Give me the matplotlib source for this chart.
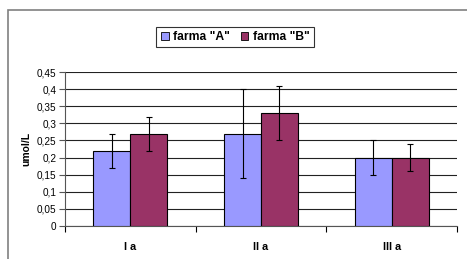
import matplotlib
matplotlib.use("Agg")
import matplotlib.pyplot as plt
import numpy as np
from matplotlib.patches import Rectangle

categories = ["I a", "II a", "III a"]
series_names = ['farma "A"', 'farma "B"']
values_a = [0.22, 0.27, 0.20]
values_b = [0.27, 0.33, 0.20]
err_a = [0.05, 0.13, 0.05]
err_b = [0.05, 0.08, 0.04]
ytick_vals = [0, 0.05, 0.1, 0.15, 0.2, 0.25, 0.3, 0.35, 0.4, 0.45]
ytick_labels = ["0", "0,05", "0,1", "0,15", "0,2", "0,25", "0,3", "0,35", "0,4", "0,45"]

plt.rcParams['font.family'] = ['Liberation Sans', 'DejaVu Sans']

W, H = 467, 259
fig = plt.figure(figsize=(W / 100, H / 100), dpi=100)
fig.patch.set_facecolor("white")

# outer chart frame
fig.patches.append(Rectangle((8 / W, -0.1), 1.2, (H - 10) / H + 0.1, transform=fig.transFigure,
                             fill=False, edgecolor="#808080", linewidth=1.2))

ax_l, ax_r, ax_t, ax_b = 65, 457, 72.3, 225.7
ax = fig.add_axes([ax_l / W, 1 - ax_b / H, (ax_r - ax_l) / W, (ax_b - ax_t) / H])

x = np.arange(len(categories))
bw = 0.283
ax.bar(x - bw / 2, values_a, bw, color="#9999FF", edgecolor="black", linewidth=0.8,
       label=series_names[0], zorder=3)
ax.bar(x + bw / 2, values_b, bw, color="#993366", edgecolor="black", linewidth=0.8,
       label=series_names[1], zorder=3)
ax.errorbar(x - bw / 2, values_a, yerr=err_a, fmt="none", ecolor="black", elinewidth=0.8,
            capsize=2.5, capthick=0.8, zorder=4)
ax.errorbar(x + bw / 2, values_b, yerr=err_b, fmt="none", ecolor="black", elinewidth=0.8,
            capsize=2.5, capthick=0.8, zorder=4)

ax.set_xlim(-0.5, len(categories) - 0.5)
ax.set_ylim(0, 0.45)
ax.set_yticks(ytick_vals)
ax.set_yticklabels(ytick_labels, fontsize=7.2)
ax.yaxis.grid(True, color="#222222", linewidth=0.8, zorder=0)
ax.set_axisbelow(True)

ax.set_xticks(x)
ax.set_xticklabels(categories, fontsize=7.8, fontweight="bold")
ax.tick_params(axis="x", length=0, pad=12)
# boundary ticks
ax.set_xticks(np.arange(-0.5, len(categories)), minor=True)
ax.tick_params(axis="x", which="minor", length=4, width=0.8, color="black")
ax.tick_params(axis="y", length=4, width=0.8, color="#555555", pad=2)

for s in ["top", "right"]:
    ax.spines[s].set_visible(False)
ax.spines["left"].set_color("#555555")
ax.spines["left"].set_linewidth(0.8)
ax.spines["bottom"].set_color("#555555")
ax.spines["bottom"].set_linewidth(0.8)

ax.set_ylabel("umol/L", fontsize=7.5, fontweight="bold", labelpad=4)

leg = fig.legend(loc="center", bbox_to_anchor=(235 / W, 1 - 37 / H), ncol=2,
                 prop={"weight": "bold", "size": 8.7}, frameon=True, fancybox=False,
                 edgecolor="black", handlelength=0.65, handleheight=0.65, handletextpad=0.35,
                 columnspacing=0.9, borderpad=0.35, borderaxespad=0)
leg.get_frame().set_linewidth(0.8)
for h in leg.legend_handles:
    h.set_linewidth(0.6)

fig.savefig("out.png", dpi=100)
